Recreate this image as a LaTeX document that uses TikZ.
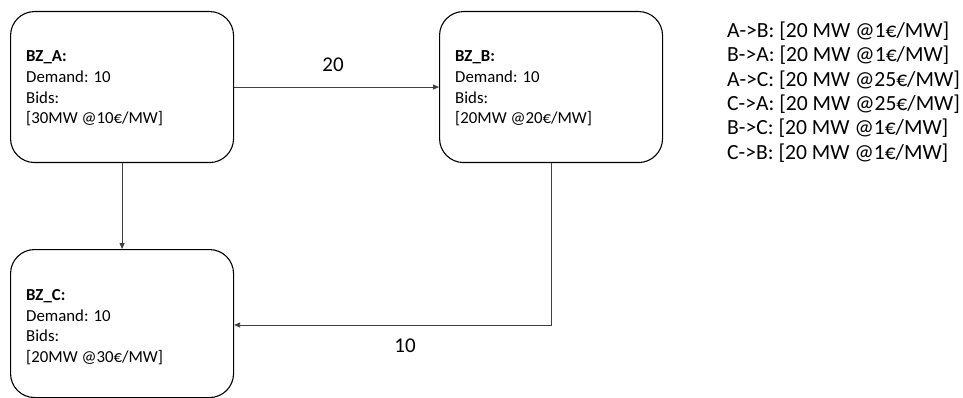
\documentclass[tikz,border=0pt]{standalone}
\usepackage{fontspec}
\setmainfont{Carlito}
\usetikzlibrary{arrows.meta,calc}
\begin{document}
\begin{tikzpicture}[x=1pt,y=-1pt,
  zone/.style={draw=black, line width=1.1pt, rounded corners=24pt, minimum width=223pt, minimum height=151pt, inner sep=0pt, anchor=north west},
  zonetext/.style={anchor=west, align=left, inner sep=0pt, font=\fontsize{16.8}{20.7}\selectfont},
  arr/.style={draw=black!75, line width=0.8pt, -{Triangle[length=6pt,width=5pt]}},
  lbl/.style={font=\fontsize{21}{24}\selectfont, inner sep=0pt},
  list/.style={anchor=north west, align=left, inner sep=0pt, font=\fontsize{21.6}{24.3}\selectfont}]
\useasboundingbox (0,0) rectangle (963,398);
\node[zone] (A) at (10,11) {};
\node[zone] (B) at (439,11) {};
\node[zone, minimum height=148pt] (C) at (10,249) {};
\node[zonetext] (At) at ([xshift=16pt,yshift=-1.5pt]A.west) {\textbf{BZ\_A:}\\Demand: 10\\Bids:\\{[30MW @10€/MW]}};
\node[zonetext] (Bt) at ([xshift=16pt,yshift=-1.5pt]B.west) {\textbf{BZ\_B:}\\Demand: 10\\Bids:\\{[20MW @20€/MW]}};
\node[zonetext] (Ct) at ([xshift=16pt,yshift=-3.5pt]C.west) {\textbf{BZ\_C:}\\Demand: 10\\Bids:\\{[20MW @30€/MW]}};
\draw[arr] (A.east) -- (B.west);
\draw[arr] (A.south) -- (C.north);
\coordinate (bc) at (553,325);
\draw[arr] (B.south) |- (C.east |- bc);
\node[lbl] (l20) at (333,65) {20};
\node[lbl] (l10) at (405,346) {10};
\node[list] (L) at (727,21.8) {A->B: [20 MW @1€/MW]\\B->A: [20 MW @1€/MW]\\A->C: [20 MW @25€/MW]\\C->A: [20 MW @25€/MW]\\B->C: [20 MW @1€/MW]\\C->B: [20 MW @1€/MW]};
\end{tikzpicture}
\end{document}
